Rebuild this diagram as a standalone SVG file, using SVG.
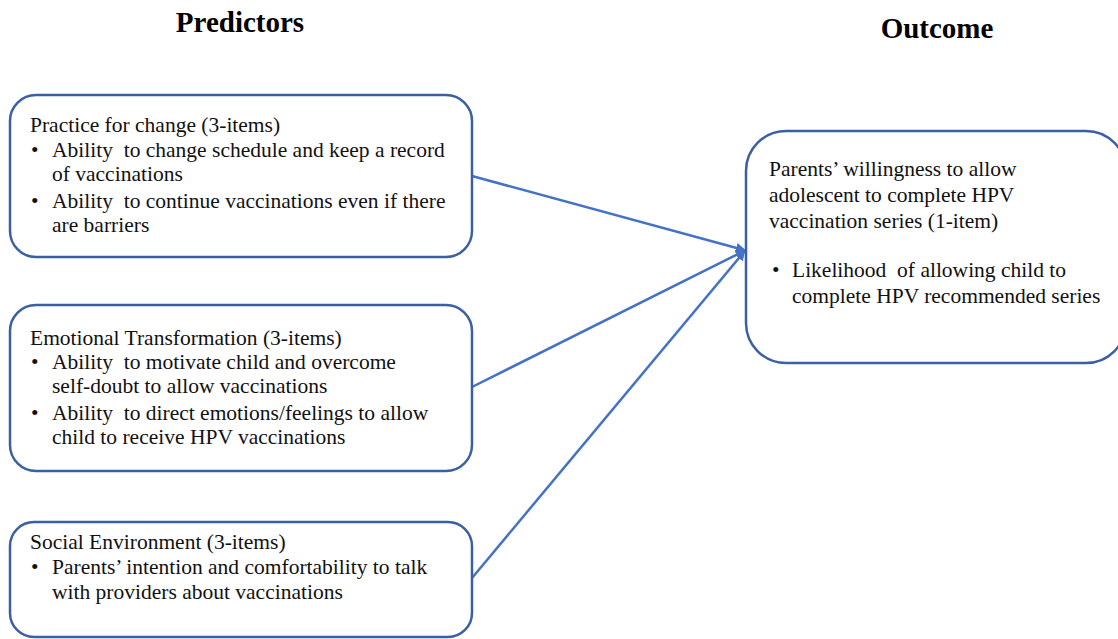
<svg xmlns="http://www.w3.org/2000/svg" width="1118" height="639" viewBox="0 0 1118 639">
<style>
.box{fill:#fff;stroke:#3B5FA3;stroke-width:2.5}
.t{font-family:"Liberation Serif","Times New Roman",serif;font-size:21.5px;fill:#111;white-space:pre}
.h{font-family:"Liberation Serif","Times New Roman",serif;font-size:29px;font-weight:bold;fill:#000}
.c{stroke:#4472C4;stroke-width:2.5;fill:none}
</style>
<defs>
<marker id="ah" markerWidth="10" markerHeight="10" refX="8" refY="5" orient="auto" markerUnits="userSpaceOnUse">
<path d="M0,0 L10,5 L0,10 Z" fill="#4472C4"/>
</marker>
</defs>
<rect width="1118" height="639" fill="#fff"/>
<text class="h" x="240" y="32" text-anchor="middle">Predictors</text>
<text class="h" x="937" y="38" text-anchor="middle">Outcome</text>
<g id="connectors">
<line class="c" x1="472" y1="176" x2="744" y2="250" marker-end="url(#ah)"/>
<line class="c" x1="472" y1="387" x2="744" y2="251" marker-end="url(#ah)"/>
<line class="c" x1="472" y1="578" x2="744" y2="252" marker-end="url(#ah)"/>
</g>
<g id="node-practice">
<rect class="box" x="10" y="95" width="462" height="162" rx="26"/>
<text class="t" x="30" y="132">Practice for change (3-items)</text>
<text class="t" x="31" y="157">•</text>
<text class="t" x="52" y="157">Ability  to change schedule and keep a record</text>
<text class="t" x="52" y="181">of vaccinations</text>
<text class="t" x="31" y="208">•</text>
<text class="t" x="52" y="208">Ability  to continue vaccinations even if there</text>
<text class="t" x="52" y="232">are barriers</text>
</g>
<g id="node-emotional">
<rect class="box" x="10" y="305" width="462" height="166" rx="26"/>
<text class="t" x="30" y="345">Emotional Transformation (3-items)</text>
<text class="t" x="31" y="369">•</text>
<text class="t" x="52" y="369">Ability  to motivate child and overcome</text>
<text class="t" x="52" y="393">self-doubt to allow vaccinations</text>
<text class="t" x="31" y="420">•</text>
<text class="t" x="52" y="420">Ability  to direct emotions/feelings to allow</text>
<text class="t" x="52" y="444">child to receive HPV vaccinations</text>
</g>
<g id="node-social">
<rect class="box" x="10" y="522" width="462" height="115" rx="24"/>
<text class="t" x="30" y="549">Social Environment (3-items)</text>
<text class="t" x="31" y="574">•</text>
<text class="t" x="52" y="574">Parents’ intention and comfortability to talk</text>
<text class="t" x="52" y="599">with providers about vaccinations</text>
</g>
<g id="node-outcome">
<rect class="box" x="746" y="131" width="380" height="232" rx="40"/>
<text class="t" x="769" y="176">Parents’ willingness to allow</text>
<text class="t" x="769" y="202">adolescent to complete HPV</text>
<text class="t" x="769" y="228">vaccination series (1-item)</text>
<text class="t" x="772" y="277">•</text>
<text class="t" x="792" y="277">Likelihood  of allowing child to</text>
<text class="t" x="792" y="303">complete HPV recommended series</text>
</g>
</svg>
